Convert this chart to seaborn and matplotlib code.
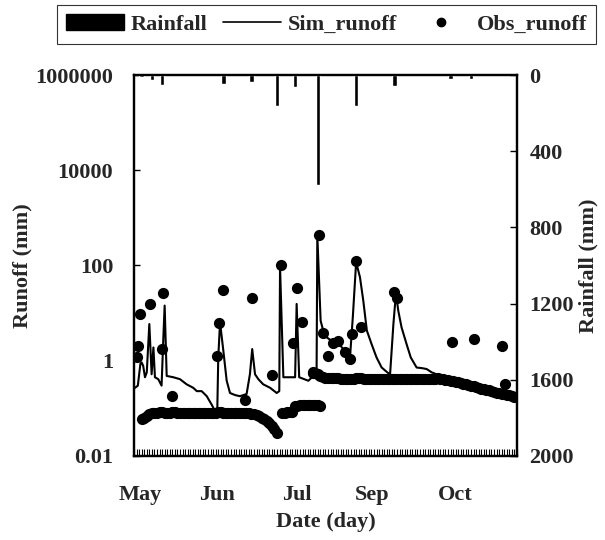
import matplotlib
matplotlib.use("Agg")
import matplotlib.pyplot as plt
import seaborn as sns
import pandas as pd
from matplotlib.patches import Patch
from matplotlib.lines import Line2D
from matplotlib.ticker import FixedLocator, MultipleLocator, NullLocator

# ---------------- data ----------------
month_labels = ["May", "Jun", "Jul", "Sep", "Oct"]
month_pos = [2.4, 32.5, 63.8, 93.2, 125.7]

rain_days = [3, 7, 11, 35, 46, 56, 63, 72, 87, 102, 124, 132]
rain_mm = [10, 26, 53, 49, 38, 165, 65, 580, 165, 60, 23, 23]

sim_days = [0.4, 1.5, 2.5, 3.0, 3.6, 4.3, 5.0, 6.0, 6.9, 7.6, 8.2, 9.5, 10.8, 11.5, 12.0,
            12.8, 15.4, 18.0, 20.6, 23.2, 24.6, 26.5, 28.5, 30.4, 31.7, 32.6, 33.0, 33.7,
            35.0, 36.3, 37.6, 39.6, 41.5, 44.1, 45.4, 46.3, 47.4, 48.7, 50.6, 53.3, 55.9,
            56.9, 57.2, 58.5, 61.1, 63.1, 63.7, 64.7, 68.3, 70.9, 71.5, 71.8, 73.1, 74.1,
            75.5, 77.4, 79.4, 81.4, 83.3, 84.6, 85.7, 87.0, 88.5, 89.8, 91.2, 93.1, 95.0,
            97.0, 99.2, 100.3, 101.6, 102.6, 103.5, 104.8, 106.8, 108.4, 110.7, 112.7,
            114.6, 116.6, 118.5, 121.1, 126.4, 132.9, 139.4, 146.0, 149.9]
sim_runoff = [0.27, 0.3, 0.86, 0.92, 0.78, 0.45, 0.57, 5.9, 0.52, 1.9, 0.45, 0.41, 0.3, 3.1, 14.4,
              0.48, 0.45, 0.41, 0.32, 0.27, 0.23, 0.23, 0.18, 0.12, 0.089, 0.082, 1.17, 6.4,
              1.6, 0.38, 0.21, 0.19, 0.18, 0.2, 0.52, 1.76, 0.52, 0.41, 0.32, 0.27, 0.21,
              0.23, 92, 0.45, 0.45, 0.45, 15.6, 0.45, 0.38, 0.52, 0.41, 430, 6.9, 4.3,
              3.1, 2.6, 2.85, 1.9, 1.5, 1.17, 8.2, 117, 57, 18.3, 4.3, 2.2, 1.17,
              0.72, 0.57, 0.52, 5.9, 26, 11.3, 5.0, 2.2, 1.17, 0.72, 0.7,
              0.67, 0.57, 0.52, 0.45, 0.35, 0.3, 0.23, 0.2, 0.18]

# observed runoff: event observations
obs_event_days = [1.0, 1.7, 2.3, 6.3, 10.8, 11.5, 14.8, 32.6, 33.4, 34.7, 43.5, 46.1, 53.9,
                  57.5, 62.4, 63.7, 65.7, 70.2, 72.5, 74.1, 76.1, 78.1, 80.0, 82.6, 84.6,
                  85.3, 87.0, 88.9, 101.8, 102.9, 124.4, 133.3, 144.3, 145.3]
obs_event_vals = [1.17, 2.07, 9.6, 15.6, 1.76, 26.6, 0.18, 1.23, 6.1, 30, 0.15, 21, 0.5,
                  100, 2.4, 34, 6.6, 0.57, 445, 3.8, 1.23, 2.4, 2.6, 1.5, 1.1,
                  3.7, 123, 5.1, 27.5, 21, 2.5, 2.9, 2.0, 0.32]

# observed runoff: daily base-flow observations
obs_base_days = [3, 4, 5, 6, 7, 8, 9, 10, 11, 12, 13, 14, 15, 16, 17, 18, 19, 20, 21, 22,
                 23, 24, 25, 26, 27, 28, 29, 30, 31, 32, 33, 34, 35, 36, 37, 38, 39, 40,
                 41, 42, 43, 44, 45, 46, 47, 48, 49, 50, 51, 52, 53, 54, 55, 56,
                 58, 59, 60, 61, 62, 63, 64, 65, 66, 67, 68, 69, 70, 71, 72, 73,
                 70, 71, 72, 73, 74, 75, 76, 77, 78, 79, 80, 81, 82, 83, 84, 85, 86, 87,
                 88, 89, 90, 91, 92, 93, 94, 95, 96, 97, 98, 99, 100, 101, 102, 103, 104,
                 105, 106, 107, 108, 109, 110, 111, 112, 113, 114, 115, 116, 117, 118,
                 119, 120, 121, 122, 123, 124, 125, 126, 127, 128, 129, 130, 131, 132,
                 133, 134, 135, 136, 137, 138, 139, 140, 141, 142, 143, 144, 145, 146,
                 147, 148, 149, 150]
obs_base_vals = [0.060, 0.064, 0.070, 0.075, 0.078, 0.080, 0.080, 0.082, 0.082, 0.080,
                 0.080, 0.080, 0.082, 0.082, 0.080, 0.080, 0.080, 0.080, 0.080, 0.080,
                 0.080, 0.080, 0.080, 0.080, 0.080, 0.080, 0.080, 0.080, 0.080, 0.080,
                 0.082, 0.082, 0.080, 0.080, 0.080, 0.080, 0.080, 0.080, 0.078, 0.078,
                 0.078, 0.078, 0.078, 0.076, 0.075, 0.072, 0.068, 0.064, 0.060, 0.055,
                 0.050, 0.043, 0.037, 0.031,
                 0.080, 0.080, 0.082, 0.082, 0.085, 0.110, 0.110, 0.115, 0.115, 0.115,
                 0.115, 0.115, 0.115, 0.115, 0.115, 0.110,
                 0.55, 0.55, 0.52, 0.48, 0.45, 0.44, 0.44, 0.43, 0.43, 0.43, 0.43, 0.42,
                 0.42, 0.42, 0.42, 0.42, 0.42, 0.44, 0.44, 0.43, 0.42, 0.42, 0.42, 0.42,
                 0.42, 0.42, 0.42, 0.42, 0.42, 0.42, 0.42, 0.42, 0.42, 0.42, 0.42, 0.42,
                 0.42, 0.42, 0.42, 0.42, 0.42, 0.42, 0.42, 0.42, 0.42, 0.42, 0.42,
                 0.42, 0.42, 0.43, 0.42, 0.41, 0.40, 0.39, 0.38, 0.37, 0.36, 0.35, 0.34,
                 0.33, 0.32, 0.31, 0.30, 0.29, 0.28, 0.27, 0.26, 0.25, 0.245, 0.24, 0.23,
                 0.22, 0.215, 0.21, 0.205, 0.20, 0.195, 0.19, 0.18, 0.175, 0.17]

runoff_ticks = [0.01, 1, 100, 10000, 1000000]
runoff_tick_labels = ["0.01", "1", "100", "10000", "1000000"]
rain_ticks = [0, 400, 800, 1200, 1600, 2000]

# ---------------- style ----------------
sns.set_theme(style="white")
plt.rcParams["font.family"] = ["Liberation Serif", "DejaVu Serif"]
plt.rcParams["font.weight"] = "bold"
FS = 16

fig = plt.figure(figsize=(6.05, 5.4), dpi=100)
ax = fig.add_axes([0.2215, 0.1556, 0.633, 0.7055])

sim_df = pd.DataFrame({"day": sim_days, "runoff": sim_runoff})
obs_df = pd.DataFrame({"day": obs_event_days + obs_base_days,
                       "runoff": obs_event_vals + obs_base_vals})

sns.scatterplot(data=obs_df, x="day", y="runoff", ax=ax, color="black", s=65,
                edgecolor="black", linewidth=0, zorder=3, legend=False)
sns.lineplot(data=sim_df, x="day", y="runoff", ax=ax, color="black", linewidth=1.5,
             zorder=4, legend=False, estimator=None, sort=False)

ax.set_yscale("log")
ax.set_ylim(0.01, 1000000)
ax.set_xlim(0, 150)
ax.yaxis.set_major_locator(FixedLocator(runoff_ticks))
ax.yaxis.set_minor_locator(NullLocator())
ax.set_yticklabels(runoff_tick_labels, fontsize=FS, fontweight="bold")
ax.set_xticks(month_pos)
ax.set_xticklabels(month_labels, fontsize=FS, fontweight="bold")
ax.xaxis.set_minor_locator(MultipleLocator(1))
ax.tick_params(axis="x", which="major", length=0, pad=21)
ax.tick_params(axis="x", which="minor", direction="in", length=5, width=0.8,
               bottom=True, color="black")
ax.tick_params(axis="y", which="major", direction="in", length=4, width=1, color="black",
               left=True, pad=15)
ax.set_xlabel("Date (day)", fontsize=FS, fontweight="bold", labelpad=5)
ax.set_ylabel("Runoff (mm)", fontsize=FS, fontweight="bold", labelpad=2)

ax2 = ax.twinx()
ax2.bar(rain_days, rain_mm, width=1.7, color="black", align="center", zorder=2)
ax2.set_ylim(2000, 0)
ax2.set_yticks(rain_ticks)
ax2.set_yticklabels([str(t) for t in rain_ticks], fontsize=FS, fontweight="bold")
ax2.tick_params(axis="y", direction="in", length=5, width=1, color="black", right=True,
                pad=9)
ax2.set_ylabel("Rainfall (mm)", fontsize=FS, fontweight="bold", labelpad=3)
ax2.grid(False)
ax.grid(False)

for a in (ax, ax2):
    for sp in a.spines.values():
        sp.set_color("black")
        sp.set_linewidth(1.6)
        sp.set_visible(True)

handles = [Patch(facecolor="black", edgecolor="black"),
           Line2D([0], [0], color="black", lw=1.2),
           Line2D([0], [0], color="black", lw=0, marker="o", markersize=6)]
labels = ["Rainfall", "Sim_runoff", "Obs_runoff"]
leg = fig.legend(handles, labels, loc="upper center", bbox_to_anchor=(0.54, 0.99),
                 ncol=3, frameon=True, fancybox=False, edgecolor="black",
                 prop={"family": "Liberation Serif", "weight": "bold", "size": FS},
                 handlelength=2.6, handleheight=0.7, handletextpad=0.3,
                 columnspacing=0.7, borderpad=0.4, borderaxespad=0.0)
leg.get_frame().set_linewidth(0.8)

fig.savefig("out.png", dpi=100)
